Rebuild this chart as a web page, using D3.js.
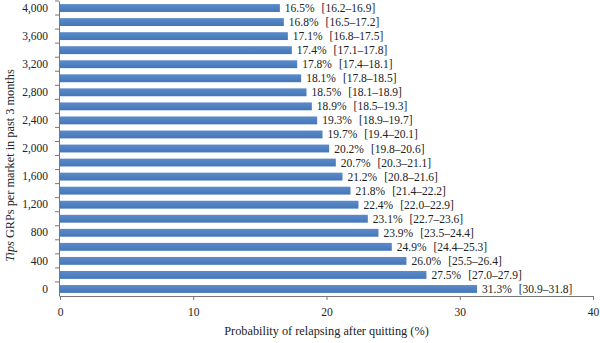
<!DOCTYPE html>
<html>
<head>
<meta charset="utf-8">
<script src="https://cdn.jsdelivr.net/npm/d3@7"></script>
<style>
  body { margin: 0; background: #fff; }
  svg { font-family: "Liberation Serif", "DejaVu Serif", serif; }
</style>
</head>
<body>
<div id="chart"></div>
<script>
"use strict";

// GRPs per market (categories), bottom to top
var grps = [0, 200, 400, 600, 800, 1000, 1200, 1400, 1600, 1800, 2000,
            2200, 2400, 2600, 2800, 3000, 3200, 3400, 3600, 3800, 4000];
// probability of relapsing (%)
var prob = [31.3, 27.5, 26.0, 24.9, 23.9, 23.1, 22.4, 21.8, 21.2, 20.7, 20.2,
            19.7, 19.3, 18.9, 18.5, 18.1, 17.8, 17.4, 17.1, 16.8, 16.5];
var ciLow = [30.9, 27.0, 25.5, 24.4, 23.5, 22.7, 22.0, 21.4, 20.8, 20.3, 19.8,
             19.4, 18.9, 18.5, 18.1, 17.8, 17.4, 17.1, 16.8, 16.5, 16.2];
var ciHigh = [31.8, 27.9, 26.4, 25.3, 24.4, 23.6, 22.9, 22.2, 21.6, 21.1, 20.6,
              20.1, 19.7, 19.3, 18.9, 18.5, 18.1, 17.8, 17.5, 17.2, 16.9];
var yTickLabels = [0, 400, 800, 1200, 1600, 2000, 2400, 2800, 3200, 3600, 4000];
var xTicks = [0, 10, 20, 30, 40];

var data = grps.map(function (g, i) {
  return { grp: g, p: prob[i], lo: ciLow[i], hi: ciHigh[i] };
});

var width = 600, height = 343;
var margin = { left: 59, top: 1, right: 6, bottom: 47 };
var innerWidth = width - margin.left - margin.right;
var innerHeight = height - margin.top - margin.bottom;

var x = d3.scaleLinear().domain([0, 40]).range([1, innerWidth - 1]);
var y = d3.scaleBand().domain(grps.slice().reverse()).range([0, innerHeight])
  .paddingInner(0.44).paddingOuter(0.22);

var svg = d3.select('#chart').append('svg')
  .attr('width', width).attr('height', height);

var g = svg.append('g')
  .attr('transform', 'translate(' + margin.left + ',' + margin.top + ')');

var grad = svg.append('defs').append('linearGradient')
  .attr('id', 'barGrad').attr('x1', 0).attr('y1', 0).attr('x2', 0).attr('y2', 1);
grad.append('stop').attr('offset', '0%').attr('stop-color', '#5b8bc9');
grad.append('stop').attr('offset', '100%').attr('stop-color', '#4576b8');

// bars
g.selectAll('rect.bar')
  .data(data)
  .enter()
  .append('rect')
  .attr('class', 'bar')
  .attr('x', x(0))
  .attr('y', d => y(d.grp))
  .attr('width', d => x(d.p) - x(0))
  .attr('height', y.bandwidth())
  .attr('fill', 'url(#barGrad)');

// value labels
var lab = g.selectAll('text.val')
  .data(data)
  .enter()
  .append('text')
  .attr('class', 'val')
  .attr('x', d => x(d.p) + 5)
  .attr('y', d => y(d.grp) + y.bandwidth() / 2)
  .attr('dy', '0.35em')
  .style('font-size', '11.5px')
  .attr('fill', '#222');
lab.append('tspan').text(d => d.p.toFixed(1) + '%');
lab.append('tspan').attr('dx', 7)
  .text(d => '[' + d.lo.toFixed(1) + '\u2013' + d.hi.toFixed(1) + ']');

// x axis
var xAxis = g.append('g')
  .attr('transform', 'translate(0,' + innerHeight + ')')
  .call(d3.axisBottom(x).tickValues(xTicks).tickSize(4).tickPadding(8).tickSizeOuter(0));
xAxis.select('.domain').attr('stroke', '#777');
xAxis.selectAll('line').attr('stroke', '#777');
xAxis.selectAll('text').style('font-size', '11.5px').attr('fill', '#222')
  .style('font-family', '"Liberation Serif", serif');

// y axis: labels at every other bar, ticks at band boundaries
var yAxis = g.append('g')
  .call(d3.axisLeft(y).tickValues(yTickLabels).tickSize(0).tickPadding(11)
    .tickFormat(d3.format(',')));
yAxis.select('.domain').attr('stroke', '#777');
yAxis.selectAll('text').style('font-size', '11.5px').attr('fill', '#222')
  .style('font-family', '"Liberation Serif", serif');

var bounds = grps.slice(1).map(function (gv) { return y(gv) + y.bandwidth() + (y.step() - y.bandwidth()) / 2; });
bounds.push(0);
g.append('g').selectAll('line')
  .data(bounds)
  .enter()
  .append('line')
  .attr('x1', -4).attr('x2', 0)
  .attr('y1', d => d).attr('y2', d => d)
  .attr('stroke', '#777');

// axis titles
g.append('text')
  .attr('x', x(20))
  .attr('y', innerHeight + 39)
  .attr('text-anchor', 'middle')
  .style('font-size', '12.3px')
  .attr('fill', '#222')
  .text('Probability of relapsing after quitting (%)');

var yt = g.append('text')
  .attr('transform', 'translate(' + (-45) + ',' + (innerHeight / 2 + 17) + ') rotate(-90)')
  .attr('text-anchor', 'middle')
  .style('font-size', '12.3px')
  .attr('fill', '#222');
yt.append('tspan').style('font-style', 'italic').text('Tips');
yt.append('tspan').text(' GRPs per market in past 3 months');
</script>
</body>
</html>
